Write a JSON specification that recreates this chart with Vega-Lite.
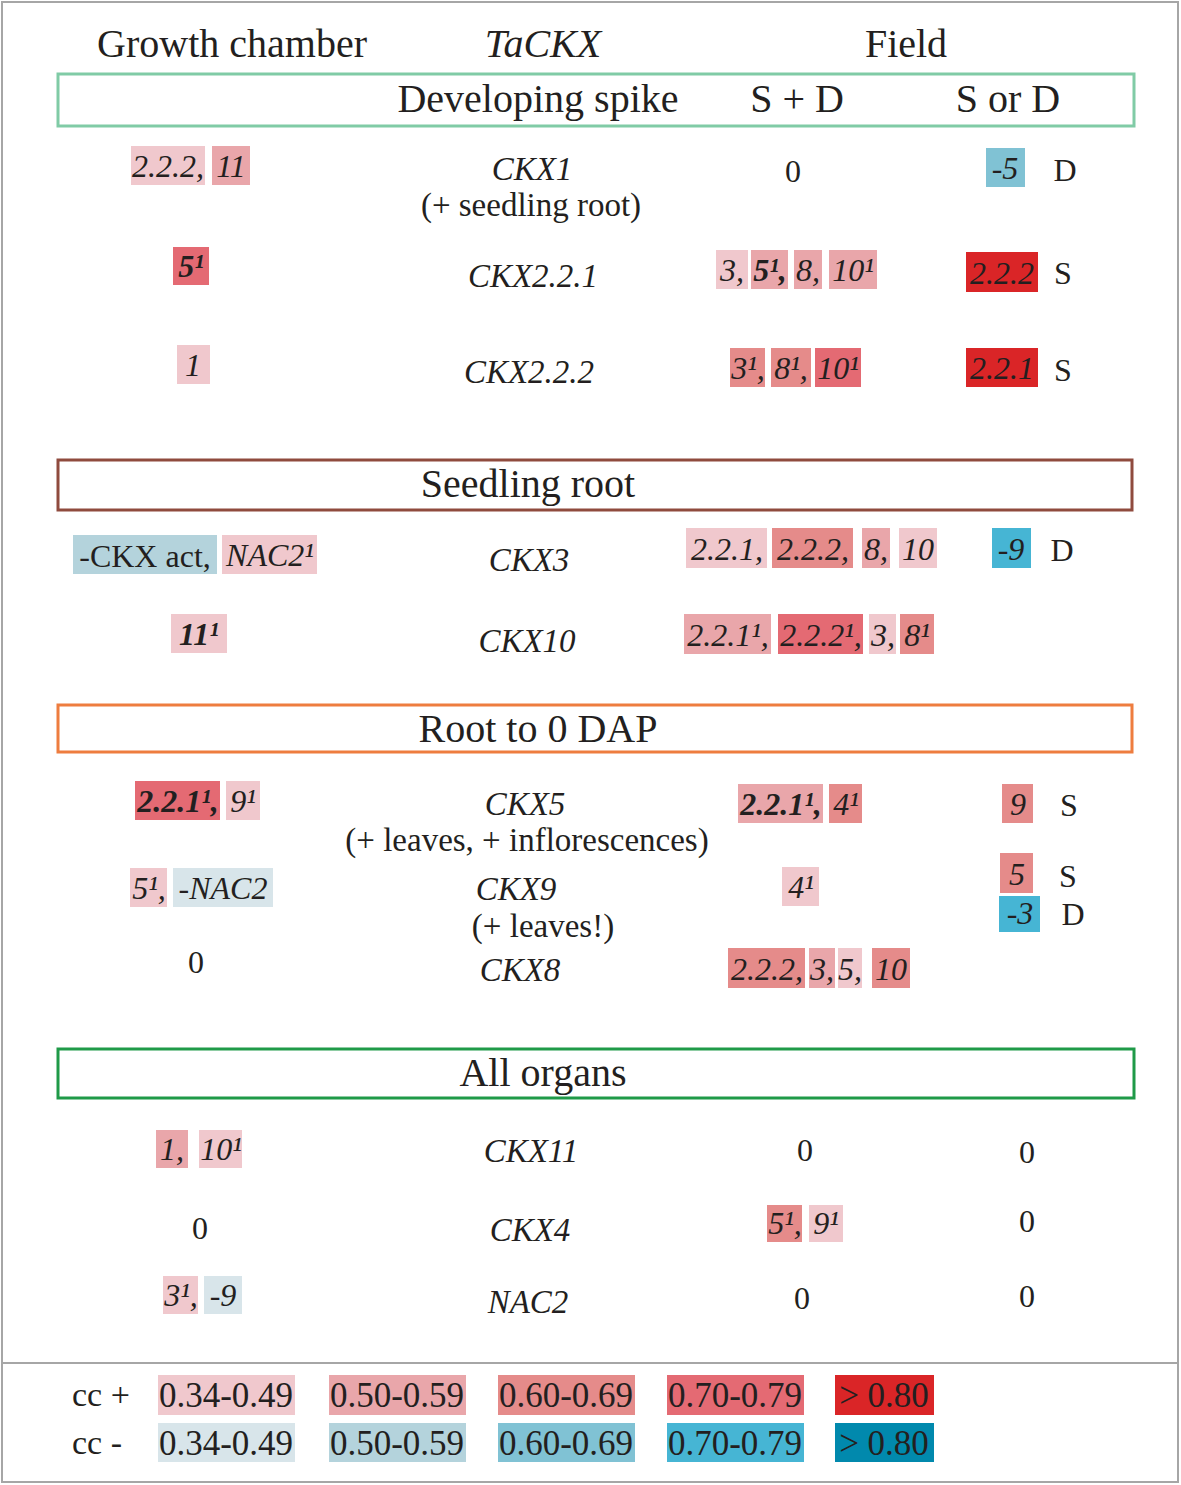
{
  "$schema": "https://vega.github.io/schema/vega-lite/v6.json",
  "width": 1181,
  "height": 1485,
  "padding": 0,
  "autosize": {"type": "fit", "contains": "padding"},
  "background": "white",
  "config": {"view": {"stroke": null}, "font": "Liberation Serif"},
  "datasets": {
    "frame": [{"x": 2, "x2": 1178, "y": 2, "y2": 1482}],
    "separator": [{"x": 2, "x2": 1178, "y": 1363}],
    "sections": [
      {"section": "Developing spike", "x": 58, "x2": 1134, "y": 74, "y2": 126},
      {"section": "Seedling root", "x": 58, "x2": 1132, "y": 460, "y2": 510},
      {"section": "Root to 0 DAP", "x": 58, "x2": 1132, "y": 705, "y2": 752},
      {"section": "All organs", "x": 58, "x2": 1134, "y": 1049, "y2": 1098}
    ],
    "cells": [
      {"x": 131, "x2": 205, "y": 146, "y2": 185, "cc": "p1"},
      {"x": 212, "x2": 250, "y": 146, "y2": 185, "cc": "p2"},
      {"x": 986, "x2": 1025, "y": 148, "y2": 187, "cc": "n3"},
      {"x": 173, "x2": 209, "y": 247, "y2": 285, "cc": "p4"},
      {"x": 716, "x2": 748, "y": 250, "y2": 289, "cc": "p1"},
      {"x": 751, "x2": 788, "y": 250, "y2": 289, "cc": "p2"},
      {"x": 794, "x2": 822, "y": 250, "y2": 289, "cc": "p2"},
      {"x": 829, "x2": 877, "y": 250, "y2": 289, "cc": "p2"},
      {"x": 966, "x2": 1038, "y": 252, "y2": 292, "cc": "p5"},
      {"x": 177, "x2": 210, "y": 345, "y2": 384, "cc": "p1"},
      {"x": 730, "x2": 765, "y": 348, "y2": 387, "cc": "p3"},
      {"x": 771, "x2": 811, "y": 348, "y2": 387, "cc": "p3"},
      {"x": 815, "x2": 861, "y": 348, "y2": 387, "cc": "p4"},
      {"x": 966, "x2": 1038, "y": 348, "y2": 387, "cc": "p5"},
      {"x": 73, "x2": 217, "y": 535, "y2": 574, "cc": "n2"},
      {"x": 222, "x2": 317, "y": 535, "y2": 574, "cc": "p1"},
      {"x": 686, "x2": 767, "y": 528, "y2": 568, "cc": "p1"},
      {"x": 772, "x2": 853, "y": 528, "y2": 568, "cc": "p3"},
      {"x": 862, "x2": 890, "y": 528, "y2": 568, "cc": "p2"},
      {"x": 899, "x2": 937, "y": 528, "y2": 568, "cc": "p1"},
      {"x": 992, "x2": 1031, "y": 528, "y2": 568, "cc": "n4"},
      {"x": 171, "x2": 227, "y": 614, "y2": 653, "cc": "p1"},
      {"x": 684, "x2": 771, "y": 614, "y2": 654, "cc": "p2"},
      {"x": 778, "x2": 863, "y": 614, "y2": 654, "cc": "p4"},
      {"x": 869, "x2": 896, "y": 614, "y2": 654, "cc": "p1"},
      {"x": 900, "x2": 934, "y": 614, "y2": 654, "cc": "p3"},
      {"x": 135, "x2": 220, "y": 781, "y2": 820, "cc": "p4"},
      {"x": 226, "x2": 260, "y": 781, "y2": 820, "cc": "p1"},
      {"x": 738, "x2": 823, "y": 784, "y2": 823, "cc": "p2"},
      {"x": 829, "x2": 862, "y": 784, "y2": 823, "cc": "p3"},
      {"x": 1002, "x2": 1033, "y": 784, "y2": 823, "cc": "p3"},
      {"x": 130, "x2": 167, "y": 868, "y2": 907, "cc": "p1"},
      {"x": 173, "x2": 273, "y": 868, "y2": 907, "cc": "n1"},
      {"x": 782, "x2": 819, "y": 867, "y2": 906, "cc": "p1"},
      {"x": 1000, "x2": 1033, "y": 853, "y2": 893, "cc": "p3"},
      {"x": 999, "x2": 1040, "y": 896, "y2": 932, "cc": "n4"},
      {"x": 728, "x2": 805, "y": 948, "y2": 988, "cc": "p3"},
      {"x": 809, "x2": 835, "y": 948, "y2": 988, "cc": "p2"},
      {"x": 838, "x2": 862, "y": 948, "y2": 988, "cc": "p1"},
      {"x": 872, "x2": 910, "y": 948, "y2": 988, "cc": "p3"},
      {"x": 156, "x2": 188, "y": 1130, "y2": 1168, "cc": "p2"},
      {"x": 199, "x2": 242, "y": 1130, "y2": 1168, "cc": "p1"},
      {"x": 767, "x2": 802, "y": 1205, "y2": 1242, "cc": "p3"},
      {"x": 809, "x2": 843, "y": 1205, "y2": 1242, "cc": "p1"},
      {"x": 163, "x2": 198, "y": 1276, "y2": 1314, "cc": "p1"},
      {"x": 204, "x2": 242, "y": 1276, "y2": 1314, "cc": "n1"},
      {"x": 158, "x2": 295, "y": 1375, "y2": 1415, "cc": "p1"},
      {"x": 329, "x2": 466, "y": 1375, "y2": 1415, "cc": "p2"},
      {"x": 498, "x2": 635, "y": 1375, "y2": 1415, "cc": "p3"},
      {"x": 667, "x2": 804, "y": 1375, "y2": 1415, "cc": "p4"},
      {"x": 835, "x2": 934, "y": 1375, "y2": 1415, "cc": "p5"},
      {"x": 158, "x2": 295, "y": 1423, "y2": 1462, "cc": "n1"},
      {"x": 329, "x2": 466, "y": 1423, "y2": 1462, "cc": "n2"},
      {"x": 498, "x2": 635, "y": 1423, "y2": 1462, "cc": "n3"},
      {"x": 667, "x2": 804, "y": 1423, "y2": 1462, "cc": "n4"},
      {"x": 835, "x2": 934, "y": 1423, "y2": 1462, "cc": "n5"}
    ],
    "values": [
      {"t": "2.2.2,", "x": 168, "y": 177},
      {"t": "11", "x": 231, "y": 177},
      {"t": "-5", "x": 1005, "y": 179},
      {"t": "3,", "x": 732, "y": 281},
      {"t": "8,", "x": 808, "y": 281},
      {"t": "10¹", "x": 853, "y": 281},
      {"t": "2.2.2", "x": 1002, "y": 284},
      {"t": "1", "x": 193, "y": 376},
      {"t": "3¹,", "x": 748, "y": 379},
      {"t": "8¹,", "x": 791, "y": 379},
      {"t": "10¹", "x": 838, "y": 379},
      {"t": "2.2.1", "x": 1002, "y": 379},
      {"t": "NAC2¹", "x": 270, "y": 566},
      {"t": "2.2.1,", "x": 727, "y": 560},
      {"t": "2.2.2,", "x": 813, "y": 560},
      {"t": "8,", "x": 876, "y": 560},
      {"t": "10", "x": 918, "y": 560},
      {"t": "-9", "x": 1011, "y": 560},
      {"t": "2.2.1¹,", "x": 728, "y": 646},
      {"t": "2.2.2¹,", "x": 821, "y": 646},
      {"t": "3,", "x": 883, "y": 646},
      {"t": "8¹", "x": 917, "y": 646},
      {"t": "9¹", "x": 243, "y": 812},
      {"t": "4¹", "x": 846, "y": 815},
      {"t": "9", "x": 1018, "y": 815},
      {"t": "5¹,", "x": 149, "y": 899},
      {"t": "-NAC2", "x": 223, "y": 899},
      {"t": "4¹", "x": 801, "y": 898},
      {"t": "5", "x": 1017, "y": 885},
      {"t": "-3", "x": 1020, "y": 924},
      {"t": "2.2.2,", "x": 767, "y": 980},
      {"t": "3,", "x": 822, "y": 980},
      {"t": "5,", "x": 850, "y": 980},
      {"t": "10", "x": 891, "y": 980},
      {"t": "1,", "x": 172, "y": 1160},
      {"t": "10¹", "x": 221, "y": 1160},
      {"t": "5¹,", "x": 785, "y": 1234},
      {"t": "9¹", "x": 826, "y": 1234},
      {"t": "3¹,", "x": 181, "y": 1306},
      {"t": "-9", "x": 223, "y": 1306}
    ],
    "strong": [
      {"t": "5¹", "x": 191, "y": 277},
      {"t": "5¹,", "x": 770, "y": 281},
      {"t": "11¹", "x": 199, "y": 645},
      {"t": "2.2.1¹,", "x": 178, "y": 812},
      {"t": "2.2.1¹,", "x": 781, "y": 815}
    ],
    "plain": [
      {"t": "0", "x": 793, "y": 182},
      {"t": "D", "x": 1065, "y": 181},
      {"t": "S", "x": 1063, "y": 284},
      {"t": "S", "x": 1063, "y": 381},
      {"t": "-CKX act,", "x": 145, "y": 567},
      {"t": "D", "x": 1062, "y": 561},
      {"t": "S", "x": 1069, "y": 816},
      {"t": "S", "x": 1068, "y": 887},
      {"t": "D", "x": 1073, "y": 925},
      {"t": "0", "x": 196, "y": 973},
      {"t": "0", "x": 805, "y": 1161},
      {"t": "0", "x": 1027, "y": 1163},
      {"t": "0", "x": 200, "y": 1239},
      {"t": "0", "x": 1027, "y": 1232},
      {"t": "0", "x": 802, "y": 1309},
      {"t": "0", "x": 1027, "y": 1307}
    ],
    "headers": [
      {"t": "Growth chamber", "x": 232, "y": 57},
      {"t": "Field", "x": 906, "y": 57},
      {"t": "Developing spike", "x": 538, "y": 112},
      {"t": "S + D", "x": 797, "y": 112},
      {"t": "S or D", "x": 1008, "y": 112},
      {"t": "Seedling root", "x": 528, "y": 497},
      {"t": "Root to 0 DAP", "x": 538, "y": 742},
      {"t": "All organs", "x": 543, "y": 1086}
    ],
    "headerItalic": [
      {"t": "TaCKX", "x": 543, "y": 57}
    ],
    "genes": [
      {"t": "CKX1", "x": 532, "y": 180},
      {"t": "CKX2.2.1", "x": 533, "y": 287},
      {"t": "CKX2.2.2", "x": 529, "y": 383},
      {"t": "CKX3", "x": 529, "y": 571},
      {"t": "CKX10", "x": 527, "y": 652},
      {"t": "CKX5", "x": 525, "y": 815},
      {"t": "CKX9", "x": 516, "y": 900},
      {"t": "CKX8", "x": 520, "y": 981},
      {"t": "CKX11", "x": 531, "y": 1162},
      {"t": "CKX4", "x": 530, "y": 1241},
      {"t": "NAC2", "x": 528, "y": 1313}
    ],
    "notes": [
      {"t": "(+ seedling root)", "x": 531, "y": 216},
      {"t": "(+ leaves, + inflorescences)", "x": 527, "y": 851},
      {"t": "(+ leaves!)", "x": 543, "y": 937}
    ],
    "legendLabels": [
      {"t": "0.34-0.49", "x": 226, "y": 1407},
      {"t": "0.50-0.59", "x": 397, "y": 1407},
      {"t": "0.60-0.69", "x": 566, "y": 1407},
      {"t": "0.70-0.79", "x": 735, "y": 1407},
      {"t": "> 0.80", "x": 884, "y": 1407},
      {"t": "0.34-0.49", "x": 226, "y": 1455},
      {"t": "0.50-0.59", "x": 397, "y": 1455},
      {"t": "0.60-0.69", "x": 566, "y": 1455},
      {"t": "0.70-0.79", "x": 735, "y": 1455},
      {"t": "> 0.80", "x": 884, "y": 1455}
    ],
    "legendSigns": [
      {"t": "cc +", "x": 72, "y": 1406},
      {"t": "cc -", "x": 72, "y": 1454}
    ]
  },
  "encoding": {
    "x": {"field": "x", "type": "quantitative", "scale": {"domain": [0, 1181], "nice": false, "zero": false}, "axis": null},
    "y": {"field": "y", "type": "quantitative", "scale": {"domain": [0, 1485], "nice": false, "zero": false, "reverse": true}, "axis": null}
  },
  "layer": [
    {
      "data": {"name": "frame"},
      "mark": {"type": "rect", "filled": false, "stroke": "#a6a6a6", "strokeWidth": 2},
      "encoding": {"x2": {"field": "x2"}, "y2": {"field": "y2"}}
    },
    {
      "data": {"name": "separator"},
      "mark": {"type": "rule", "stroke": "#a6a6a6", "strokeWidth": 2},
      "encoding": {"x2": {"field": "x2"}}
    },
    {
      "data": {"name": "sections"},
      "mark": {"type": "rect", "filled": false, "strokeWidth": 3},
      "encoding": {
        "x2": {"field": "x2"},
        "y2": {"field": "y2"},
        "stroke": {"field": "section", "type": "nominal", "legend": null,
          "scale": {"domain": ["Developing spike", "Seedling root", "Root to 0 DAP", "All organs"],
                    "range": ["#80cba6", "#8f4b3e", "#ee7d3f", "#1f9a48"]}}
      }
    },
    {
      "data": {"name": "cells"},
      "mark": {"type": "rect"},
      "encoding": {
        "x2": {"field": "x2"},
        "y2": {"field": "y2"},
        "fill": {"field": "cc", "type": "nominal", "legend": null,
          "scale": {"domain": ["p1", "p2", "p3", "p4", "p5", "n1", "n2", "n3", "n4", "n5"],
                    "range": ["#f0c8cd", "#e9a6aa", "#e58b8a", "#e46a73", "#da2527", "#d8e5ea", "#b4d3dc", "#80c2d4", "#46b5d4", "#0189ad"]}}
      }
    },
    {
      "data": {"name": "values"},
      "mark": {"type": "text", "font": "Liberation Serif", "fontStyle": "italic", "fontSize": 32, "baseline": "alphabetic", "align": "center", "color": "#231f20"},
      "encoding": {"text": {"field": "t"}}
    },
    {
      "data": {"name": "strong"},
      "mark": {"type": "text", "font": "Liberation Serif", "fontStyle": "italic", "fontWeight": "bold", "fontSize": 32, "baseline": "alphabetic", "align": "center", "color": "#231f20"},
      "encoding": {"text": {"field": "t"}}
    },
    {
      "data": {"name": "plain"},
      "mark": {"type": "text", "font": "Liberation Serif", "fontSize": 32, "baseline": "alphabetic", "align": "center", "color": "#231f20"},
      "encoding": {"text": {"field": "t"}}
    },
    {
      "data": {"name": "headers"},
      "mark": {"type": "text", "font": "Liberation Serif", "fontSize": 40, "baseline": "alphabetic", "align": "center", "color": "#231f20"},
      "encoding": {"text": {"field": "t"}}
    },
    {
      "data": {"name": "headerItalic"},
      "mark": {"type": "text", "font": "Liberation Serif", "fontStyle": "italic", "fontSize": 40, "baseline": "alphabetic", "align": "center", "color": "#231f20"},
      "encoding": {"text": {"field": "t"}}
    },
    {
      "data": {"name": "genes"},
      "mark": {"type": "text", "font": "Liberation Serif", "fontStyle": "italic", "fontSize": 33, "baseline": "alphabetic", "align": "center", "color": "#231f20"},
      "encoding": {"text": {"field": "t"}}
    },
    {
      "data": {"name": "notes"},
      "mark": {"type": "text", "font": "Liberation Serif", "fontSize": 33, "baseline": "alphabetic", "align": "center", "color": "#231f20"},
      "encoding": {"text": {"field": "t"}}
    },
    {
      "data": {"name": "legendLabels"},
      "mark": {"type": "text", "font": "Liberation Serif", "fontSize": 35, "baseline": "alphabetic", "align": "center", "color": "#231f20"},
      "encoding": {"text": {"field": "t"}}
    },
    {
      "data": {"name": "legendSigns"},
      "mark": {"type": "text", "font": "Liberation Serif", "fontSize": 34, "baseline": "alphabetic", "align": "left", "color": "#231f20"},
      "encoding": {"text": {"field": "t"}}
    }
  ]
}
